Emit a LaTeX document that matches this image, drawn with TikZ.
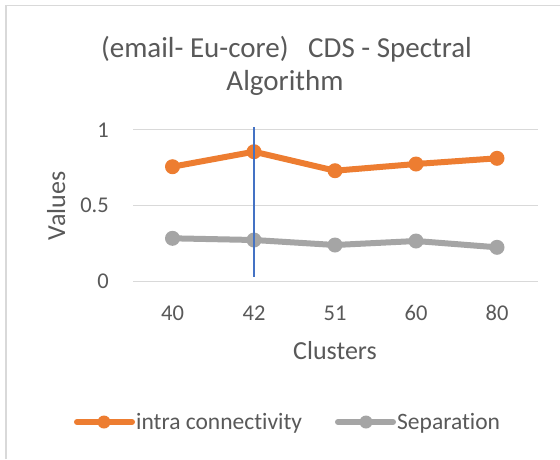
\documentclass[tikz,border=0pt]{standalone}
\usepackage{fontspec}
\setmainfont{Carlito}[Ligatures={NoCommon,NoContextual}]
\definecolor{txtgray}{HTML}{595959}
\definecolor{gridgray}{HTML}{D9D9D9}
\definecolor{frame}{HTML}{D9D9D9}
\definecolor{serorange}{HTML}{ED7D31}
\definecolor{sergray}{HTML}{A5A5A5}
\definecolor{markblue}{HTML}{4472C4}
\begin{document}
\begin{tikzpicture}[x=1pt,y=-1pt,
  lbl/.style={text=txtgray, inner sep=0pt},
  titlefont/.style={lbl, font=\fontsize{29}{33}\selectfont},
  axisfont/.style={lbl, font=\fontsize{26}{30}\selectfont},
  tickfont/.style={lbl, font=\fontsize{22.5}{26}\selectfont},
  legfont/.style={lbl, font=\fontsize{23.5}{27}\selectfont},
  gridline/.style={draw=gridgray, line width=1.4pt},
  serieso/.style={draw=serorange, line width=6pt, line join=round},
  seriesg/.style={draw=sergray, line width=6pt, line join=round},
  doto/.style={circle, fill=serorange, inner sep=0pt, minimum size=15pt},
  dotg/.style={circle, fill=sergray, inner sep=0pt, minimum size=15pt},
  legdoto/.style={circle, fill=serorange, inner sep=0pt, minimum size=13pt},
  legdotg/.style={circle, fill=sergray, inner sep=0pt, minimum size=13pt}]
\useasboundingbox (0,0) rectangle (560,459);
\fill[white] (0,0) rectangle (560,459);

% chart area border (left and top edges)
\draw[frame, line width=2pt] (6,459) -- (6,5.5);
\draw[frame, line width=1.2pt] (5,5.5) -- (560,5.5);

% title
\node[titlefont, anchor=base] (title1) at (286.5,57) {(email- Eu-core)\ \ \ CDS - Spectral};
\node[titlefont, anchor=base] (title2) at (285,90) {Algorithm};

% horizontal gridlines
\coordinate (g0l) at (133,281.3);  \coordinate (g0r) at (538,281.3);
\coordinate (g5l) at (133,205.4);  \coordinate (g5r) at (538,205.4);
\coordinate (g1l) at (133,129.5);  \coordinate (g1r) at (538,129.5);
\draw[gridline] (g0l) -- (g0r);
\draw[gridline] (g5l) -- (g5r);
\draw[gridline] (g1l) -- (g1r);

% value axis labels
\node[tickfont, anchor=base east] (y1) at (109,137) {1};
\node[tickfont, anchor=base east] (y5) at (109,212.5) {0.5};
\node[tickfont, anchor=base east] (y0) at (109,288.5) {0};
\node[axisfont, rotate=90, anchor=base] (ytitle) at (65,206) {Values};

% category axis labels
\node[tickfont, anchor=base] (x40) at (172.5,320) {40};
\node[tickfont, anchor=base] (x42) at (254,320) {42};
\node[tickfont, anchor=base] (x51) at (335,320) {51};
\node[tickfont, anchor=base] (x60) at (416,320) {60};
\node[tickfont, anchor=base] (x80) at (497,320) {80};
\node[axisfont, anchor=base] (xtitle) at (335,359) {Clusters};

% data points
\coordinate (o1) at (172.5,166.7);
\coordinate (o2) at (254,151.7);
\coordinate (o3) at (335,170.7);
\coordinate (o4) at (416,164);
\coordinate (o5) at (497,158.3);
\coordinate (s1) at (172.5,238.3);
\coordinate (s2) at (254,240);
\coordinate (s3) at (335,245);
\coordinate (s4) at (416,241);
\coordinate (s5) at (497,247.3);

% series lines
\draw[serieso] (o1) -- (o2) -- (o3) -- (o4) -- (o5);
\draw[seriesg] (s1) -- (s2) -- (s3) -- (s4) -- (s5);
\foreach \i in {1,...,5} {
  \node[doto] (mo\i) at (o\i) {};
  \node[dotg] (ms\i) at (s\i) {};
}

% marker line at 42 clusters
\coordinate (vtop) at (254,127.3);
\coordinate (vbot) at (254,276.7);
\draw[markblue, line width=2pt] (vtop) -- (vbot);

% legend
\coordinate (la1) at (77,422);  \coordinate (la2) at (132,422);
\draw[serieso, line cap=round] (la1) -- (la2);
\node[legdoto] (lma) at (104,422) {};
\node[legfont, anchor=base west] (lta) at (136,429) {intra connectivity};
\coordinate (lb1) at (338,422);  \coordinate (lb2) at (393,422);
\draw[seriesg, line cap=round] (lb1) -- (lb2);
\node[legdotg] (lmb) at (366,422) {};
\node[legfont, anchor=base west] (ltb) at (397,429) {Separation};
\end{tikzpicture}
\end{document}
